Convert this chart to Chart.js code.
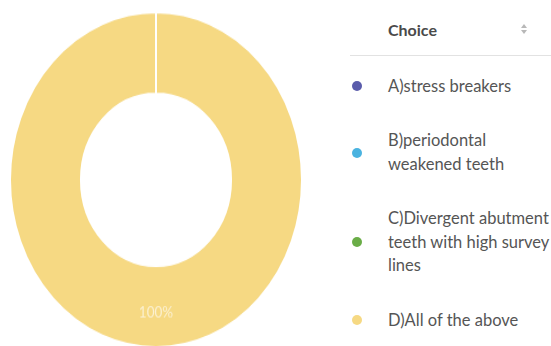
<!DOCTYPE html>
<html>
<head>
<meta charset="utf-8">
<script src="https://cdn.jsdelivr.net/npm/chart.js@4"></script>
<style>
  html, body { margin:0; padding:0; background:#fff; width:551px; height:346px; overflow:hidden; font-family: Lato, "Open Sans", sans-serif; }
  #wrap { position:absolute; left:0; top:11px; width:312px; height:294px; transform-origin:0 0; transform:scaleY(1.148); }
  #legend { position:absolute; left:350px; top:0; width:201px; }
  #head { height:55px; border-bottom:1px solid #e2e2e2; position:relative; }
  #head .t { position:absolute; left:38px; top:19px; font-weight:bold; font-size:16px; color:#4a4a4a; line-height:22px; }
  #head .sort { position:absolute; left:171px; top:24px; width:6px; height:12px; }
  #head .sort i { display:block; width:0; height:0; border-left:3px solid transparent; border-right:3px solid transparent; margin-bottom:2px; }
  #head .sort i.up { border-bottom:4px solid #b8b8b8; }
  #head .sort i.dn { border-top:4px solid #b8b8b8; }
  #items { padding-top:3px; }
  .row { display:flex; align-items:center; padding:15.5px 0; }
  .dot { width:10px; height:10px; border-radius:50%; margin-left:2px; margin-right:26px; flex:none; }
  .lab { font-size:16.5px; line-height:23.5px; color:#555; white-space:nowrap; }
</style>
</head>
<body>
<div id="wrap"><canvas id="c" width="312" height="294"></canvas></div>
<div id="legend">
  <div id="head"><div class="t" id="headText"></div><div class="sort"><i class="up"></i><i class="dn"></i></div></div>
  <div id="items"></div>
</div>
<script>
const legendTitle = "Choice";
const categories = [
  ["A)stress breakers"],
  ["B)periodontal", "weakened teeth"],
  ["C)Divergent abutment", "teeth with high survey", "lines"],
  ["D)All of the above"]
];
const values = [0, 0, 0, 100];
const colors = ["#5a5cab", "#4ab3e0", "#6aad47", "#f6d983"];
const valueLabels = ["", "", "", "100%"];

const labelPlugin = {
  id: 'sliceLabels',
  afterDatasetsDraw(chart) {
    const ctx = chart.ctx;
    const meta = chart.getDatasetMeta(0);
    meta.data.forEach((arc, i) => {
      if (!valueLabels[i]) return;
      const p = arc.getProps(['x','y','startAngle','endAngle','innerRadius','outerRadius'], true);
      const mid = (p.startAngle + p.endAngle) / 2;
      const r = (p.innerRadius + p.outerRadius) / 2;
      ctx.save();
      ctx.fillStyle = 'rgba(255,255,255,0.62)';
      ctx.font = '13.5px Lato, "Open Sans", sans-serif';
      ctx.textAlign = 'center';
      ctx.textBaseline = 'middle';
      ctx.fillText(valueLabels[i], p.x + Math.cos(mid) * r, p.y + Math.sin(mid) * r + 5);
      ctx.restore();
    });
  }
};

new Chart(document.getElementById('c'), {
  type: 'doughnut',
  data: {
    labels: categories,
    datasets: [{
      data: values,
      backgroundColor: colors,
      borderColor: '#ffffff',
      borderWidth: 2,
      hoverOffset: 0
    }]
  },
  options: {
    responsive: false,
    animation: false,
    cutout: '51.4%',
    layout: { padding: 0 },
    plugins: { legend: { display: false }, tooltip: { enabled: false } }
  },
  plugins: [labelPlugin]
});

document.getElementById('headText').textContent = legendTitle;
const items = document.getElementById('items');
categories.forEach((lines, i) => {
  const row = document.createElement('div');
  row.className = 'row';
  const d = document.createElement('div');
  d.className = 'dot';
  d.style.background = colors[i];
  const l = document.createElement('div');
  l.className = 'lab';
  lines.forEach((ln, k) => {
    if (k) l.appendChild(document.createElement('br'));
    l.appendChild(document.createTextNode(ln));
  });
  row.appendChild(d); row.appendChild(l);
  items.appendChild(row);
});
</script>
</body>
</html>
